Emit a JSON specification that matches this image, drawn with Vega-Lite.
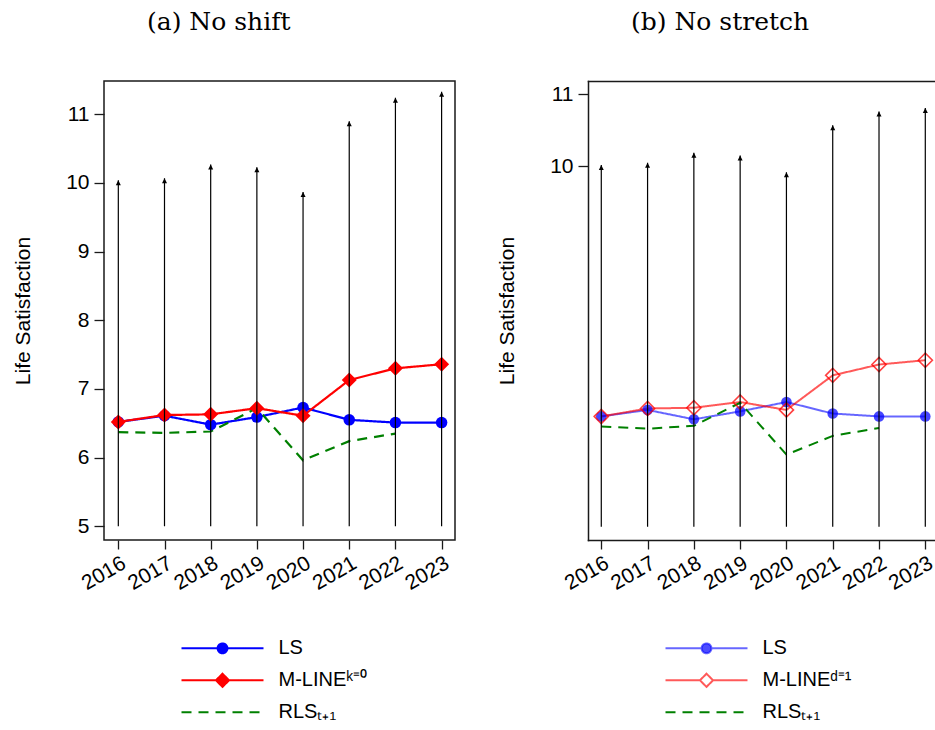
{
  "$schema": "https://vega.github.io/schema/vega-lite/v6.json",
  "padding": {"left": 11, "top": 9, "right": 0, "bottom": 0},
  "background": "white",
  "spacing": 40,
  "datasets": {
    "a": [
      {"year": 2016, "series": "LS", "value": 6.52},
      {"year": 2017, "series": "LS", "value": 6.61},
      {"year": 2018, "series": "LS", "value": 6.48},
      {"year": 2019, "series": "LS", "value": 6.59},
      {"year": 2020, "series": "LS", "value": 6.73},
      {"year": 2021, "series": "LS", "value": 6.55},
      {"year": 2022, "series": "LS", "value": 6.51},
      {"year": 2023, "series": "LS", "value": 6.51},
      {"year": 2016, "series": "M-LINEᵏ⁼⁰", "value": 6.52},
      {"year": 2017, "series": "M-LINEᵏ⁼⁰", "value": 6.62},
      {"year": 2018, "series": "M-LINEᵏ⁼⁰", "value": 6.63},
      {"year": 2019, "series": "M-LINEᵏ⁼⁰", "value": 6.72},
      {"year": 2020, "series": "M-LINEᵏ⁼⁰", "value": 6.61},
      {"year": 2021, "series": "M-LINEᵏ⁼⁰", "value": 7.13},
      {"year": 2022, "series": "M-LINEᵏ⁼⁰", "value": 7.30},
      {"year": 2023, "series": "M-LINEᵏ⁼⁰", "value": 7.36},
      {"year": 2016, "series": "RLSₜ₊₁", "value": 6.37},
      {"year": 2017, "series": "RLSₜ₊₁", "value": 6.36},
      {"year": 2018, "series": "RLSₜ₊₁", "value": 6.38},
      {"year": 2019, "series": "RLSₜ₊₁", "value": 6.72},
      {"year": 2020, "series": "RLSₜ₊₁", "value": 5.96},
      {"year": 2021, "series": "RLSₜ₊₁", "value": 6.24},
      {"year": 2022, "series": "RLSₜ₊₁", "value": 6.35},
      {"year": 2016, "series": "arrow", "value": 10.04, "base": 5},
      {"year": 2017, "series": "arrow", "value": 10.07, "base": 5},
      {"year": 2018, "series": "arrow", "value": 10.27, "base": 5},
      {"year": 2019, "series": "arrow", "value": 10.23, "base": 5},
      {"year": 2020, "series": "arrow", "value": 9.87, "base": 5},
      {"year": 2021, "series": "arrow", "value": 10.90, "base": 5},
      {"year": 2022, "series": "arrow", "value": 11.24, "base": 5},
      {"year": 2023, "series": "arrow", "value": 11.33, "base": 5}
    ],
    "b": [
      {"year": 2016, "series": "LS", "value": 6.53},
      {"year": 2017, "series": "LS", "value": 6.62},
      {"year": 2018, "series": "LS", "value": 6.49},
      {"year": 2019, "series": "LS", "value": 6.60},
      {"year": 2020, "series": "LS", "value": 6.73},
      {"year": 2021, "series": "LS", "value": 6.57},
      {"year": 2022, "series": "LS", "value": 6.53},
      {"year": 2023, "series": "LS", "value": 6.53},
      {"year": 2016, "series": "M-LINEᵈ⁼¹", "value": 6.53},
      {"year": 2017, "series": "M-LINEᵈ⁼¹", "value": 6.64},
      {"year": 2018, "series": "M-LINEᵈ⁼¹", "value": 6.65},
      {"year": 2019, "series": "M-LINEᵈ⁼¹", "value": 6.73},
      {"year": 2020, "series": "M-LINEᵈ⁼¹", "value": 6.62},
      {"year": 2021, "series": "M-LINEᵈ⁼¹", "value": 7.10},
      {"year": 2022, "series": "M-LINEᵈ⁼¹", "value": 7.25},
      {"year": 2023, "series": "M-LINEᵈ⁼¹", "value": 7.31},
      {"year": 2016, "series": "RLSₜ₊₁", "value": 6.39},
      {"year": 2017, "series": "RLSₜ₊₁", "value": 6.36},
      {"year": 2018, "series": "RLSₜ₊₁", "value": 6.40},
      {"year": 2019, "series": "RLSₜ₊₁", "value": 6.72},
      {"year": 2020, "series": "RLSₜ₊₁", "value": 6.00},
      {"year": 2021, "series": "RLSₜ₊₁", "value": 6.26},
      {"year": 2022, "series": "RLSₜ₊₁", "value": 6.37},
      {"year": 2016, "series": "arrow", "value": 10.02, "base": 5},
      {"year": 2017, "series": "arrow", "value": 10.05, "base": 5},
      {"year": 2018, "series": "arrow", "value": 10.19, "base": 5},
      {"year": 2019, "series": "arrow", "value": 10.15, "base": 5},
      {"year": 2020, "series": "arrow", "value": 9.92, "base": 5},
      {"year": 2021, "series": "arrow", "value": 10.57, "base": 5},
      {"year": 2022, "series": "arrow", "value": 10.76, "base": 5},
      {"year": 2023, "series": "arrow", "value": 10.81, "base": 5}
    ]
  },
  "config": {
    "font": "Liberation Sans",
    "view": {"stroke": "#1a1a1a", "strokeWidth": 1.5},
    "axis": {"grid": false, "domain": false, "tickColor": "#1a1a1a", "tickWidth": 1.3, "labelFont": "Liberation Sans", "labelFontSize": 21, "labelColor": "black", "titleFont": "Liberation Sans", "titleFontSize": 21, "titleFontWeight": "normal", "titleColor": "black", "domainColor": "#1a1a1a", "domainWidth": 1.5, "domainCap": "square"},
    "axisX": {"tickSize": 9, "labelAngle": -30, "labelAlign": "right", "labelBaseline": "top", "labelPadding": 3, "labelFlush": false, "labelOverlap": false},
    "axisY": {"tickSize": 10, "labelPadding": 5, "titlePadding": 32, "labelFlush": false, "labelOverlap": false},
    "title": {"font": "DejaVu Serif", "fontSize": 25, "fontWeight": "normal", "anchor": "start", "frame": "group", "dx": 43, "offset": 46, "baseline": "alphabetic", "color": "black"},
    "legend": {"orient": "none", "padding": 0, "clipHeight": 24, "rowPadding": 8, "symbolSize": 6724, "symbolStrokeWidth": 2, "symbolOffset": 0, "labelOffset": 14, "labelFont": "Liberation Sans", "labelFontSize": 20, "labelColor": "black", "labelLimit": 400}
  },
  "resolve": {"scale": {"color": "independent", "strokeDash": "independent"}, "legend": {"color": "independent", "strokeDash": "independent"}},
  "hconcat": [
    {
      "width": 351,
      "height": 459,
      "title": "(a)  No shift",
      "data": {"name": "a"},
      "encoding": {
        "x": {"field": "year", "type": "quantitative", "scale": {"domain": [2015.69, 2023.29], "nice": false, "zero": false}, "axis": {"values": [2016, 2017, 2018, 2019, 2020, 2021, 2022, 2023], "format": "d", "title": null}},
        "y": {"field": "value", "type": "quantitative", "scale": {"domain": [4.8, 11.485], "nice": false, "zero": false}, "axis": {"values": [5, 6, 7, 8, 9, 10, 11], "title": "Life Satisfaction"}}
      },
      "layer": [
        {
          "transform": [{"filter": "datum.series !== 'arrow'"}],
          "mark": {"type": "line", "strokeWidth": 2.2},
          "encoding": {
            "color": {
              "field": "series", "type": "nominal",
              "scale": {"domain": ["LS", "M-LINEᵏ⁼⁰", "RLSₜ₊₁"], "range": ["#0000ff", "#ff0000", "#008000"]},
              "legend": {
                "title": null, "legendX": 76.5, "legendY": 555.3,
                "encode": {"symbols": {"update": {
                  "shape": {"signal": "datum.index === 0 ? 'M-1,0H-0.12M0.12,0H1M-0.12,0A0.12,0.12 0 1,0 0.12,0A0.12,0.12 0 1,0 -0.12,0Z' : datum.index === 1 ? 'M-1,0H-0.16M0.16,0H1M0,-0.16L0.16,0L0,0.16L-0.16,0Z' : 'M-1,0H1'"},
                  "fill": {"signal": "datum.index === 0 ? '#0000ff' : datum.index === 1 ? '#ff0000' : 'transparent'"},
                  "stroke": {"signal": "datum.index === 0 ? '#0000ff' : datum.index === 1 ? '#ff0000' : '#008000'"},
                  "strokeDash": {"signal": "datum.index === 2 ? [10, 7] : [1, 0]"},
                  "strokeWidth": {"value": 2},
                  "opacity": {"value": 1}
                }}}
              }
            },
            "strokeDash": {"field": "series", "type": "nominal", "scale": {"domain": ["LS", "M-LINEᵏ⁼⁰", "RLSₜ₊₁"], "range": [[1, 0], [1, 0], [10, 7]]}, "legend": null}
          }
        },
        {
          "transform": [{"filter": "datum.series === 'LS'"}],
          "mark": {"type": "point", "shape": "circle", "filled": true, "size": 133, "opacity": 1, "color": "#0000ff"},
          "encoding": {}
        },
        {
          "transform": [{"filter": "indexof(datum.series, 'M-LINE') === 0"}],
          "mark": {"type": "point", "shape": "diamond", "filled": true, "size": 225, "opacity": 1, "color": "#ff0000"},
          "encoding": {}
        },
        {
          "transform": [{"filter": "datum.series === 'arrow'"}],
          "mark": {"type": "rule", "strokeWidth": 1.2, "color": "black"},
          "encoding": {"y2": {"field": "base"}}
        },
        {
          "transform": [{"filter": "datum.series === 'arrow'"}],
          "mark": {"type": "point", "shape": "M0,0L-1,2L1,2Z", "filled": true, "size": 25, "opacity": 1, "color": "black"},
          "encoding": {}
        }
      ]
    },
    {
      "width": 346,
      "height": 459,
      "view": {"stroke": null},
      "title": "(b)  No stretch",
      "data": {"name": "b"},
      "resolve": {"axis": {"x": "independent"}},
      "encoding": {
        "y": {"field": "value", "type": "quantitative", "scale": {"domain": [4.815, 11.185], "nice": false, "zero": false}, "axis": {"values": [10, 11], "title": "Life Satisfaction", "domain": true}}
      },
      "layer": [
        {
          "transform": [{"filter": "datum.series !== 'arrow'"}],
          "mark": {"type": "line", "strokeWidth": 2},
          "encoding": {
            "x": {"field": "year", "type": "quantitative", "scale": {"domain": [2015.713, 2023.188], "nice": false, "zero": false}, "axis": {"values": [2016, 2017, 2018, 2019, 2020, 2021, 2022, 2023], "format": "d", "title": null, "domain": true}},
            "color": {
              "field": "series", "type": "nominal",
              "scale": {"domain": ["LS", "M-LINEᵈ⁼¹", "RLSₜ₊₁"], "range": ["rgba(0,0,255,0.6)", "rgba(255,0,0,0.65)", "#008000"]},
              "legend": {
                "title": null, "legendX": 76.5, "legendY": 555.3,
                "encode": {"symbols": {"update": {
                  "shape": {"signal": "datum.index === 0 ? 'M-1,0H-0.12M0.12,0H1M-0.12,0A0.12,0.12 0 1,0 0.12,0A0.12,0.12 0 1,0 -0.12,0Z' : datum.index === 1 ? 'M-1,0H-0.16M0.16,0H1M0,-0.16L0.16,0L0,0.16L-0.16,0Z' : 'M-1,0H1'"},
                  "fill": {"signal": "datum.index === 0 ? 'rgba(0,0,255,0.7)' : 'transparent'"},
                  "stroke": {"signal": "datum.index === 0 ? 'rgba(0,0,255,0.6)' : datum.index === 1 ? 'rgba(255,0,0,0.65)' : '#008000'"},
                  "strokeDash": {"signal": "datum.index === 2 ? [10, 7] : [1, 0]"},
                  "strokeWidth": {"value": 2},
                  "opacity": {"value": 1}
                }}}
              }
            },
            "strokeDash": {"field": "series", "type": "nominal", "scale": {"domain": ["LS", "M-LINEᵈ⁼¹", "RLSₜ₊₁"], "range": [[1, 0], [1, 0], [10, 7]]}, "legend": null}
          }
        },
        {
          "transform": [{"filter": "datum.series === 'LS'"}],
          "mark": {"type": "point", "shape": "circle", "filled": true, "size": 113, "opacity": 1, "color": "rgba(0,0,255,0.72)"},
          "encoding": {
            "x": {"field": "year", "type": "quantitative", "scale": {"domain": [2015.713, 2023.188], "nice": false, "zero": false}, "axis": null}
          }
        },
        {
          "transform": [{"filter": "indexof(datum.series, 'M-LINE') === 0"}],
          "mark": {"type": "point", "shape": "diamond", "filled": false, "size": 200, "strokeWidth": 1.6, "opacity": 1, "color": "rgba(255,0,0,0.75)"},
          "encoding": {
            "x": {"field": "year", "type": "quantitative", "scale": {"domain": [2015.713, 2023.188], "nice": false, "zero": false}, "axis": null}
          }
        },
        {
          "transform": [{"filter": "datum.series === 'arrow'"}],
          "mark": {"type": "rule", "strokeWidth": 1.2, "color": "black"},
          "encoding": {
            "x": {"field": "year", "type": "quantitative", "scale": {"domain": [2015.713, 2023.188], "nice": false, "zero": false}, "axis": {"orient": "top", "labels": false, "ticks": false, "domain": true, "title": null}},
            "y2": {"field": "base"}
          }
        },
        {
          "transform": [{"filter": "datum.series === 'arrow'"}],
          "mark": {"type": "point", "shape": "M0,0L-1,2L1,2Z", "filled": true, "size": 25, "opacity": 1, "color": "black"},
          "encoding": {
            "x": {"field": "year", "type": "quantitative", "scale": {"domain": [2015.713, 2023.188], "nice": false, "zero": false}, "axis": null}
          }
        }
      ]
    }
  ]
}
